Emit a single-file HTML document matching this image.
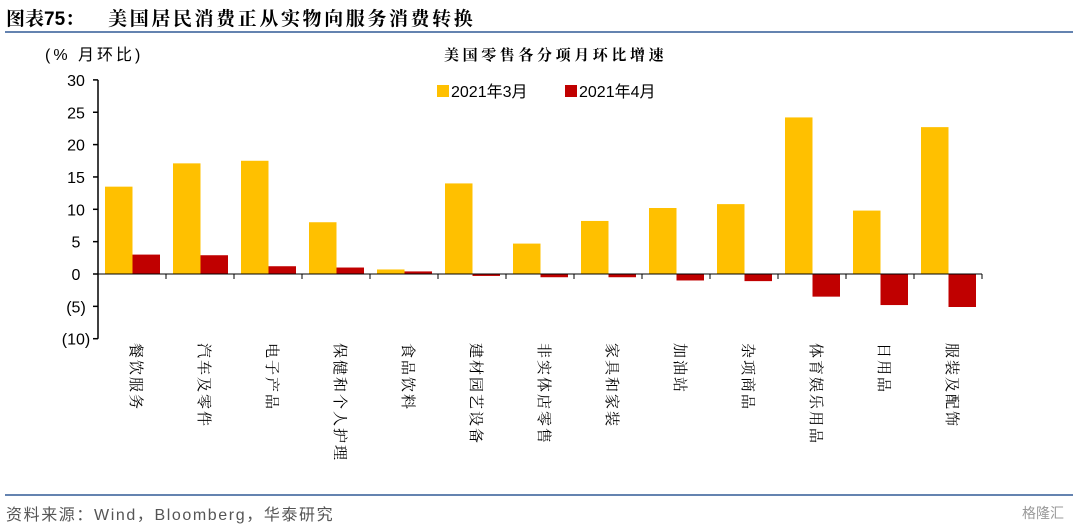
<!DOCTYPE html>
<html><head><meta charset="utf-8"><style>
body{margin:0;background:#fff;width:1080px;height:530px;overflow:hidden;position:relative;font-family:"Liberation Sans","Noto Sans CJK SC",sans-serif}
.t{position:absolute;white-space:nowrap}
</style></head><body>
<div class="t" style="left:6px;top:4px;font-size:19px;font-weight:bold;font-family:'Liberation Sans','Noto Serif CJK SC',serif;color:#000">图表75：<span style="margin-left:24px;letter-spacing:2.6px">美国居民消费正从实物向服务消费转换</span></div>
<div style="position:absolute;left:5px;top:31px;width:1068px;height:2px;background:#6483b0"></div>
<div style="position:absolute;left:5px;top:494px;width:1068px;height:2px;background:#6483b0"></div>
<div class="t" style="left:6px;top:501px;font-size:16px;letter-spacing:1.6px;color:#555">资料来源：Wind，Bloomberg，华泰研究</div>
<div class="t" style="left:1022px;top:503px;font-size:14px;color:#999">格隆汇</div>
<svg id="c" width="1080" height="530" style="position:absolute;left:0;top:0"></svg>
<script>
const categories=["餐饮服务","汽车及零件","电子产品","保健和个人护理","食品饮料","建材园艺设备","非实体店零售","家具和家装","加油站","杂项商品","体育娱乐用品","日用品","服装及配饰"];
const march=[13.5,17.1,17.5,8.0,0.7,14.0,4.7,8.2,10.2,10.8,24.2,9.8,22.7];
const april=[3.0,2.9,1.2,1.0,0.4,-0.3,-0.5,-0.5,-1.0,-1.1,-3.5,-4.8,-5.1];
const yTicks=[30,25,20,15,10,5,0,-5,-10];
const yTickLabels=["30","25","20","15","10","5","0","(5)","(10)"];
const svg=document.getElementById('c');const NS="http://www.w3.org/2000/svg";
const x0=98,step=68,bw=27.5;
const y=v=>274-v*6.47;
function el(t,a,p){const e=document.createElementNS(NS,t);for(const k in a)e.setAttribute(k,a[k]);(p||svg).appendChild(e);return e;}
function txt(s,a){const e=el('text',a);e.textContent=s;return e;}
categories.forEach((c,i)=>{
 const b1=el('rect',{x:x0+i*step+7,y:Math.min(y(march[i]),y(0)),width:bw,height:Math.abs(y(march[i])-y(0)),fill:'#ffc000'});
 
 
 const b2=el('rect',{x:x0+i*step+7+bw,y:Math.min(y(april[i]),y(0)),width:bw,height:Math.abs(y(april[i])-y(0)),fill:'#c00000'});
 
 
 const t=txt(c,{x:x0+i*step+step/2-1,y:343,'font-size':15,'letter-spacing':2,'font-family':"'Noto Serif CJK SC',serif",style:'writing-mode:vertical-rl;text-orientation:sideways',fill:'#000'});
 
 
});
el('line',{x1:x0,y1:y(0),x2:x0+13*step,y2:y(0),stroke:'#000','stroke-width':1});
for(let i=1;i<=13;i++)el('line',{x1:x0+i*step,y1:y(0),x2:x0+i*step,y2:y(0)+5,stroke:'#000'});
el('line',{x1:x0,y1:y(30),x2:x0,y2:y(-10),stroke:'#000','stroke-width':1.5});
yTicks.forEach((v,i)=>{
 el('line',{x1:x0-5,y1:y(v),x2:x0,y2:y(v),stroke:'#000','stroke-width':1.5});
 const t=txt(yTickLabels[i],{x:x0-22,y:y(v)+6,'font-size':16,'text-anchor':'middle',fill:'#000'});
 
 
});
const yt=txt("(% 月环比)",{x:45,y:60,'font-size':16,'letter-spacing':3,fill:'#000'});


const ct=txt("美国零售各分项月环比增速",{x:444,y:60,'font-size':15,'letter-spacing':3.6,'font-family':"'Noto Serif CJK SC',serif",'font-weight':'bold',fill:'#000'});


[[437,'#ffc000','2021年3月'],[565,'#c00000','2021年4月']].forEach(([lx,col,s])=>{
 const r=el('rect',{x:lx,y:85,width:12,height:12,fill:col});
 
 
 const t=txt(s,{x:lx+14,y:97,'font-size':16,fill:'#000'});
 
 
});
</script>
</body></html>
